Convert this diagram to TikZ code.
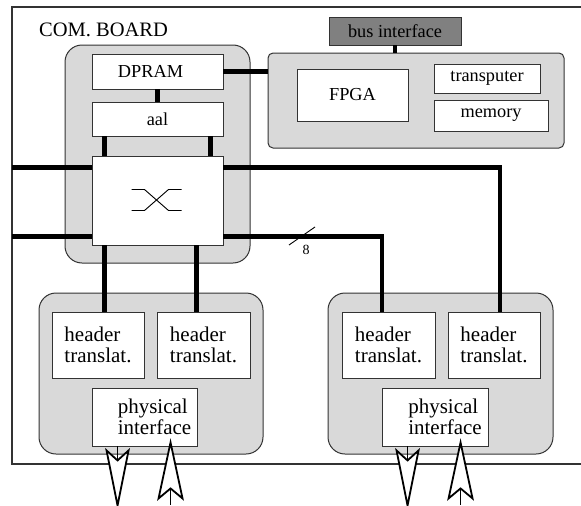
\documentclass[tikz,border=0pt]{standalone}
\usepackage{fontspec}
\setmainfont{Liberation Serif}
\usetikzlibrary{calc}
\definecolor{grpfill}{gray}{0.85}
\definecolor{busfill}{gray}{0.5}
\definecolor{edge}{gray}{0.2}
\tikzset{
  grp/.style={draw=edge, line width=1pt, fill=grpfill, inner sep=0pt},
  box/.style={draw=edge, line width=0.9pt, fill=white, inner sep=0pt, font=\fontsize{18.3}{20}\selectfont},
  bigbox/.style={box, font=\fontsize{21}{21.5}\selectfont, align=left},
  wire/.style={line width=4.5pt},
  thin/.style={line width=0.9pt},
  opentip/.style={draw=black, fill=white, line width=1.8pt, line join=miter},
}
\newcommand{\bx}[7]{% style, name, x1, x2, y1, y2, text
  \node[#1, minimum width={(#4-#3)*1pt}, minimum height={(#6-#5)*1pt}] (#2) at ({(#3+#4)/2},{(#5+#6)/2}) {#7};}
\begin{document}
\begin{tikzpicture}[x=1pt,y=-1pt]
\useasboundingbox (0,0) rectangle (581,506);
% outer board
\coordinate (bl) at (12,7);
\draw[edge, line width=1.3pt] (581,7) -- (bl) -- (12,464) -- (581,464);
\node[anchor=base west, inner sep=0pt, font=\fontsize{20.5}{22}\selectfont] (title) at (39,36) {COM. BOARD};
% groups
\draw[grp, rounded corners=17pt] (65,45) rectangle (250,263);
\draw[grp, rounded corners=5pt] (268,53) rectangle (564,148);
\coordinate (fgrpW) at (268,53);
\draw[grp, rounded corners=17pt] (39,293) rectangle (263,454);
\draw[grp, rounded corners=17pt] (328,293) rectangle (553,454);
% boxes
\bx{box}{dpram}{92}{223}{54}{89}{DPRAM\hspace*{14pt}}
\bx{box}{aal}{92}{223}{102}{136}{aal}
\bx{box}{sw}{92}{223}{156}{245}{}
\bx{box, fill=busfill}{bus}{329}{461}{17}{45}{bus interface}
\bx{box}{fpga}{297}{408}{69}{121}{FPGA}
\bx{box}{trans}{434}{540}{64}{93}{transputer}
\bx{box}{mem}{434}{548}{100}{131}{memory}
\bx{bigbox}{h1}{52}{144}{312}{378}{header\\translat.}
\bx{bigbox}{h2}{157}{250}{312}{378}{header\\translat.}
\bx{bigbox}{p1}{92}{197}{388}{446}{\hspace*{20pt}physical\\\hspace*{20pt}interface}
\bx{bigbox}{h3}{342}{435}{312}{378}{header\\translat.}
\bx{bigbox}{h4}{448}{540}{312}{378}{header\\translat.}
\bx{bigbox}{p2}{382}{488}{388}{446}{\hspace*{20pt}physical\\\hspace*{20pt}interface}
% switch symbol
\begin{scope}[shift={(sw.center)}, thin]
  \draw (-26,-11) -- (-13,-11) -- (11,10) -- (24,10);
  \draw (-26,10) -- (-13,10) -- (11,-11) -- (24,-11);
\end{scope}
% thick connectors
\draw[wire] (dpram.east) -- (dpram.east -| fgrpW);
\draw[wire] (bus.south) -- ++(0,8);
\draw[wire] (dpram.south) -- (aal.north);
\draw[wire] ([xshift=13pt]aal.south west) -- ([xshift=13pt]sw.north west);
\draw[wire] ([xshift=-13pt]aal.south east) -- ([xshift=-13pt]sw.north east);
\draw[wire] ([yshift=-12pt]sw.north west) -- ([yshift=-12pt]sw.north west -| bl);
\draw[wire] ([yshift=9pt]sw.south west) -- ([yshift=9pt]sw.south west -| bl);
\draw[wire] ([xshift=13pt]sw.south west) -- ([xshift=13pt]sw.south west |- h1.north);
\draw[wire] ([xshift=105pt]sw.south west) -- ([xshift=105pt]sw.south west |- h2.north);
\draw[wire, line join=miter] ([yshift=-12pt]sw.north east) -| ([xshift=6pt]h4.north);
\draw[wire, line join=miter] ([yshift=9pt]sw.south east) -| ([xshift=-6.5pt]h3.north);
% bus width mark
\draw[thin] (289,245) -- (315,227);
\node[inner sep=0pt, font=\fontsize{14}{14}\selectfont] (eight) at (306,250) {8};
% external arrows
\foreach \p in {p1,p2}{
  \begin{scope}[shift={(\p.south west)}]
    % outgoing (down)
    \draw[thin] (26,0) -- (26,14);
    \draw[opentip] (15,4) -- (26,14) -- (37,4) -- (26,59) -- cycle;
    % incoming (up)
    \draw[thin] (79,42) -- (79,59);
    \draw[opentip] (79,-4) -- (91,52) -- (79,42) -- (67,52) -- cycle;
  \end{scope}
}
\end{tikzpicture}
\end{document}
